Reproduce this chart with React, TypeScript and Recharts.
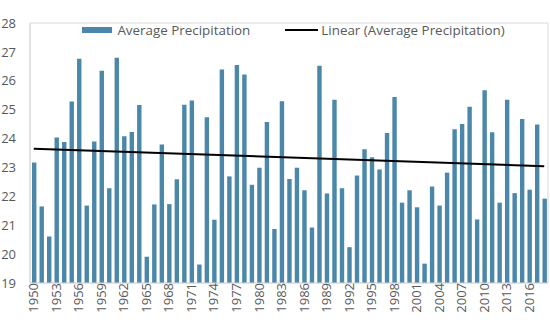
import React from "react";
import {
  Bar,
  CartesianGrid,
  ComposedChart,
  Legend,
  ReferenceLine,
  XAxis,
  YAxis,
} from "recharts";

const years = [
  "1950", "1951", "1952", "1953", "1954", "1955", "1956", "1957", "1958", "1959",
  "1960", "1961", "1962", "1963", "1964", "1965", "1966", "1967", "1968", "1969",
  "1970", "1971", "1972", "1973", "1974", "1975", "1976", "1977", "1978", "1979",
  "1980", "1981", "1982", "1983", "1984", "1985", "1986", "1987", "1988", "1989",
  "1990", "1991", "1992", "1993", "1994", "1995", "1996", "1997", "1998", "1999",
  "2000", "2001", "2002", "2003", "2004", "2005", "2006", "2007", "2008", "2009",
  "2010", "2011", "2012", "2013", "2014", "2015", "2016", "2017", "2018",
];

const precipitation = [
  23.17, 21.65, 20.61, 24.04, 23.88, 25.28, 26.76, 21.68, 23.9, 26.35,
  22.28, 26.8, 24.08, 24.23, 25.16, 19.91, 21.72, 23.79, 21.73, 22.59,
  25.17, 25.32, 19.64, 24.74, 21.19, 26.39, 22.69, 26.55, 26.22, 22.4,
  22.99, 24.57, 20.87, 25.29, 22.6, 22.99, 22.21, 20.92, 26.52, 22.1,
  25.34, 22.28, 20.24, 22.72, 23.63, 23.35, 22.93, 24.19, 25.44, 21.78,
  22.21, 21.62, 19.67, 22.34, 21.68, 22.82, 24.32, 24.5, 25.1, 21.2,
  25.67, 24.22, 21.78, 25.34, 22.11, 24.68, 22.23, 24.49, 21.92,
];

// trendline end points (1950 and 2018)
const trendStart = 23.65;
const trendEnd = 23.04;

const yTicks = [19, 20, 21, 22, 23, 24, 25, 26, 27, 28];

const data = years.map((year, i) => ({ year, value: precipitation[i] }));

const font = "'Open Sans', 'Noto Sans', sans-serif";
const textColor = "#595959";
const frameColor = "#d9d9d9";
const barColor = "#4a87a9";

const YearTick = ({ x, y, payload }) => (
  <g transform={`translate(${x},${y})`}>
    <text
      transform="rotate(-90)"
      textAnchor="end"
      dy="0.35em"
      fill={textColor}
      fontSize={13}
      fontFamily={font}
    >
      {payload.value}
    </text>
  </g>
);

const LegendContent = () => (
  <div
    style={{
      display: "flex",
      justifyContent: "center",
      alignItems: "center",
      fontFamily: font,
      fontSize: 13.4,
      color: textColor,
      paddingLeft: 39,
    }}
  >
    <span
      style={{
        display: "inline-block",
        width: 30,
        height: 6,
        background: barColor,
        marginRight: 5,
      }}
    />
    <span style={{ marginRight: 35 }}>Average Precipitation</span>
    <span
      style={{
        display: "inline-block",
        width: 33,
        height: 2,
        background: "#000",
        marginRight: 3,
      }}
    />
    <span>Linear (Average Precipitation)</span>
  </div>
);

export default function App() {
  return (
    <div style={{ position: "absolute", left: 0, top: 0 }}>
      <ComposedChart
        width={550}
        height={324}
        data={data}
        margin={{ top: 5, right: 2, left: 0, bottom: 0 }}
      >
        <CartesianGrid
          stroke={frameColor}
          horizontalCoordinatesGenerator={({ offset }) => [
            offset.top,
            offset.top + offset.height,
          ]}
          verticalCoordinatesGenerator={({ offset }) => [
            offset.left,
            offset.left + offset.width,
          ]}
        />
        <XAxis
          dataKey="year"
          height={41}
          interval={2}
          tickLine={false}
          tickSize={0}
          tickMargin={0}
          axisLine={{ stroke: frameColor }}
          tick={(props) => <YearTick {...props} />}
        />
        <YAxis
          domain={[19, 28]}
          ticks={yTicks}
          width={30}
          tickLine={false}
          tickSize={6}
          tickMargin={8}
          axisLine={{ stroke: frameColor }}
          tick={{ fill: textColor, fontSize: 13, fontFamily: font }}
        />
        <Legend
          verticalAlign="top"
          wrapperStyle={{ top: 21 }}
          content={<LegendContent />}
        />
        <Bar
          dataKey="value"
          fill={barColor}
          barSize={4.4}
          isAnimationActive={false}
        />
        <ReferenceLine
          segment={[
            { x: years[0], y: trendStart },
            { x: years[years.length - 1], y: trendEnd },
          ]}
          stroke="#000"
          strokeWidth={2}
        />
      </ComposedChart>
    </div>
  );
}
